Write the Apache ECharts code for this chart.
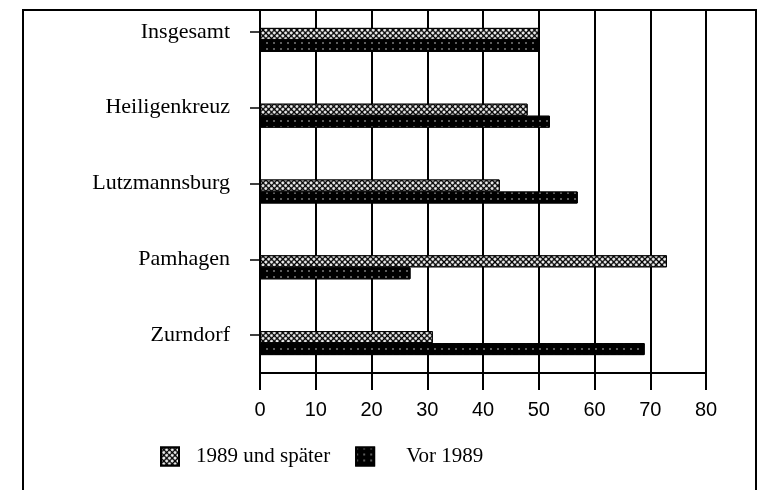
<!DOCTYPE html>
<html>
<head>
<meta charset="utf-8">
<script src="https://cdn.jsdelivr.net/npm/echarts@6/dist/echarts.min.js"></script>
<style>
  html, body { margin: 0; padding: 0; background: #fff; overflow: hidden; }
  /* oberer Rand der Kategorienbänder liegt über dem Bild */
  #chart { width: 769px; height: 496px; margin-top: -6px; }
</style>
</head>
<body>
<div id="chart"></div>
<script>
// Daten
var orte = ['Insgesamt', 'Heiligenkreuz', 'Lutzmannsburg', 'Pamhagen', 'Zurndorf'];
var ab1989 = [50, 48, 43, 73, 31];
var vor1989 = [50, 52, 57, 27, 69];
var xTicks = [0, 80, 10];

var myChart = echarts.init(document.getElementById('chart'));

var option = {
    animation: false,
    backgroundColor: '#fff',
    grid: { left: 260, right: 63, top: 0, bottom: 117 },
    legend: {
        data: [
            { name: '1989 und später' },
            { name: 'Vor 1989', textStyle: { padding: [0, 0, 0, 27] } }
        ],
        left: 160,
        top: 452,
        padding: 0,
        icon: 'rect',
        itemWidth: 18,
        itemHeight: 18,
        itemGap: 25,
        textStyle: { fontFamily: 'Liberation Serif', fontSize: 21, color: '#000', padding: [0, 0, 0, 12] }
    },
    xAxis: {
        type: 'value',
        min: xTicks[0], max: xTicks[1], interval: xTicks[2],
        axisLine: { show: true, lineStyle: { color: '#000', width: 2 } },
        axisTick: { show: true, length: 17, lineStyle: { color: '#000', width: 2 } },
        axisLabel: { margin: 27, fontFamily: 'Liberation Sans', fontSize: 20, color: '#000' },
        splitLine: { show: true, lineStyle: { color: '#000', width: 2 } }
    },
    yAxis: {
        type: 'category',
        inverse: true,
        data: orte,
        axisLine: { show: true, lineStyle: { color: '#000', width: 2 } },
        axisTick: { show: true, alignWithLabel: true, length: 10, lineStyle: { color: '#000', width: 1.5 } },
        axisLabel: { margin: 30, fontFamily: 'Liberation Serif', fontSize: 22, color: '#000' }
    },
    graphic: [
        { type: 'rect', z: 100, shape: { x: 0, y: 0, width: 769, height: 15 }, style: { fill: '#fff' } },
        { type: 'polyline', z: 101, shape: { points: [[23, 496], [23, 16], [756, 16], [756, 496]] },
          style: { stroke: '#000', lineWidth: 2, fill: null } }
    ],
    series: [
        // Platzhalter, damit die Balken unter dem Tick liegen
        { name: 'pad', type: 'bar', barWidth: 16, barGap: '0%', data: [], silent: true },
        {
            name: '1989 und später', type: 'bar', barWidth: 12, barGap: '0%',
            data: ab1989,
            itemStyle: {
                color: '#000', borderColor: '#000', borderWidth: 1,
                decal: { color: '#fff', symbol: 'circle', symbolSize: 1, dashArrayX: [3, 1], dashArrayY: [3, 1], rotation: Math.PI / 4 }
            }
        },
        {
            name: 'Vor 1989', type: 'bar', barWidth: 12, barGap: '0%',
            data: vor1989,
            itemStyle: {
                color: '#000', borderColor: '#000', borderWidth: 1,
                decal: { color: '#fff', symbol: 'circle', symbolSize: 0.7, dashArrayX: [2, 5], dashArrayY: [2, 4] }
            }
        }
    ]
};
myChart.setOption(option);
</script>
</body>
</html>
